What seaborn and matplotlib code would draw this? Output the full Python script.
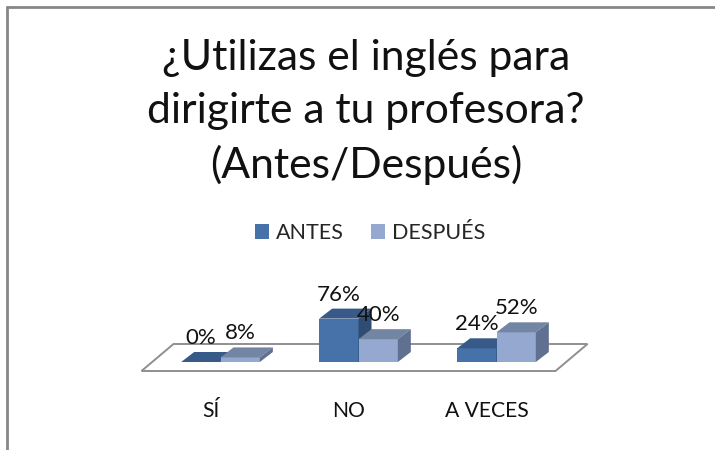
"""
3D-style grouped bar chart: use of English with the teacher, before/after.
"""

import matplotlib
matplotlib.use("Agg")

import pandas as pd
import matplotlib.pyplot as plt
import matplotlib.transforms as mtransforms
from matplotlib.patches import Polygon, Patch
from matplotlib.lines import Line2D
import seaborn as sns

# Data
categories = ["SÍ", "NO", "A VECES"]
series = ["ANTES", "DESPUÉS"]
antes = [0, 76, 24]
despues = [8, 40, 52]
title_lines = ["¿Utilizas el inglés para", "dirigirte a tu profesora?", "(Antes/Después)"]

# Face colours (front / top / side) for each series
front_colors = {"ANTES": "#4672A9", "DESPUÉS": "#94A8D0"}
top_colors = {"ANTES": "#385A88", "DESPUÉS": "#7285A3"}
side_colors = {"ANTES": "#2F4C73", "DESPUÉS": "#5F7090"}

df = pd.DataFrame({
    "respuesta": categories * 2,
    "momento": [series[0]] * len(antes) + [series[1]] * len(despues),
    "porcentaje": antes + despues,
})

sns.set_theme(style="white")
plt.rcParams["font.family"] = ["Lato", "DejaVu Sans"]

W, H, DPI = 715, 450, 100
fig = plt.figure(figsize=(W / DPI, H / DPI), dpi=DPI)
fig.patch.set_facecolor("white")

# axes: 0% baseline at y=362px from top, 138px per category, 0.571px per %
ax = fig.add_axes([151.5 / W, (H - 362) / H, 414 / W, 57.1 / H])
sns.barplot(data=df, x="respuesta", y="porcentaje", hue="momento",
            order=categories, hue_order=series, palette=front_colors,
            width=0.57, saturation=1, errorbar=None, linewidth=0,
            legend=False, ax=ax)
ax.set_xlim(-0.5, 2.5)
ax.set_ylim(0, 100)
ax.set_axis_off()

# pixel -> data conversion for the fake depth
p0, p1 = ax.transData.transform([(0, 0), (1, 1)])
px_x, px_y = p1 - p0
dx, dy = 13 / px_x, 10 / px_y

# floor of the 3D plot
fx0, fx1 = -0.5, 2.5
floor = Polygon([(fx0 - 10 / px_x, -9 / px_y), (fx1 - 10 / px_x, -9 / px_y),
                 (fx1 + 22 / px_x, 18 / px_y), (fx0 + 22 / px_x, 18 / px_y)],
                closed=True, facecolor="white", edgecolor="#8F8F8F",
                linewidth=1.4, zorder=1, clip_on=False)
ax.add_patch(floor)

bars = list(ax.patches)
bars.remove(floor)
n_cat = len(categories)
for i, bar in enumerate(bars):
    level = series[i // n_cat]
    z = 3 + i // n_cat
    x0 = bar.get_x()
    x1 = x0 + bar.get_width()
    h = bar.get_height()
    bar.set_zorder(z)
    bar.set_clip_on(False)
    top = Polygon([(x0, h), (x1, h), (x1 + dx, h + dy), (x0 + dx, h + dy)],
                  closed=True, facecolor=top_colors[level], edgecolor="none",
                  zorder=z, clip_on=False)
    side = Polygon([(x1, 0), (x1, h), (x1 + dx, h + dy), (x1 + dx, dy)],
                   closed=True, facecolor=side_colors[level], edgecolor="none",
                   zorder=z, clip_on=False)
    ax.add_patch(top)
    ax.add_patch(side)
    lift = mtransforms.ScaledTranslation(0, 18 / DPI, fig.dpi_scale_trans)
    ax.text((x0 + x1) / 2, h, f"{h:.0f}%", transform=ax.transData + lift,
            ha="center", va="baseline", fontsize=16, color="#111111",
            zorder=10, clip_on=False)

# category labels, shifted like the floor's front edge
shift = mtransforms.ScaledTranslation(-10 / DPI, -55 / DPI, fig.dpi_scale_trans)
for i, cat in enumerate(categories):
    ax.text(i, 0, cat, transform=ax.transData + shift, ha="center",
            va="baseline", fontsize=15.2, color="#111111", clip_on=False)

# title
for line, base in zip(title_lines, [70, 123, 178]):
    fig.text(366 / W, 1 - base / H, line, ha="center", va="baseline",
             fontsize=30.7, color="#111111")

# legend
handles = [Patch(facecolor=front_colors[s], edgecolor="none") for s in series]
fig.legend(handles, series, loc="center", bbox_to_anchor=(370 / W, 1 - 233 / H),
           ncol=2, frameon=False, fontsize=15.5, handlelength=0.65,
           handleheight=0.65, handletextpad=0.3, columnspacing=1.3)

# chart frame (top and left edges visible)
fig.add_artist(Line2D([7 / W, 1], [1 - 7 / H, 1 - 7 / H], color="#878787",
                      linewidth=2, transform=fig.transFigure))
fig.add_artist(Line2D([7 / W, 7 / W], [0, 1 - 7 / H], color="#878787",
                      linewidth=2, transform=fig.transFigure))

fig.savefig("out.png", dpi=DPI)
